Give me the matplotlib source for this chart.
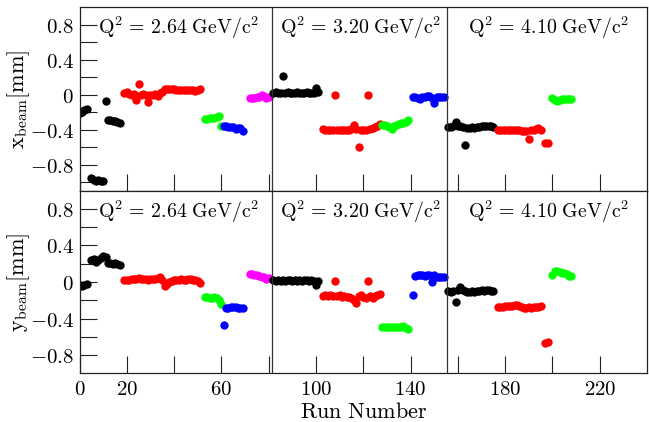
import numpy as np
import matplotlib.pyplot as plt

plt.rcParams['mathtext.fontset'] = 'cm'

# beam position per run, grouped by colour block
# Q^2 = 2.64 GeV/c^2
runs_k1 = [0, 1, 2, 3, 5, 6, 7, 8, 9, 10, 11, 12, 13, 14, 15, 16, 17]
xb_k1 = [-0.21, -0.20, -0.18, -0.16, -0.96, -0.98, -0.99, -0.98, -0.99, -0.99,
         -0.07, -0.29, -0.29, -0.30, -0.30, -0.31, -0.33]
yb_k1 = [-0.03, -0.04, -0.03, -0.02, 0.24, 0.25, 0.22, 0.24, 0.26, 0.28,
         0.27, 0.21, 0.21, 0.20, 0.21, 0.20, 0.19]

runs_r1 = list(range(19, 52))
xb_r1 = [0.02, 0.03, 0.01, 0.00, 0.01, -0.06, 0.12, 0.00, 0.01, 0.00, -0.09,
         0.00, 0.00, 0.01, -0.02, 0.02, 0.03, 0.06, 0.07, 0.06, 0.06, 0.06,
         0.05, 0.05, 0.05, 0.05, 0.05, 0.05, 0.05, 0.05, 0.04, 0.05, 0.07]
yb_r1 = [0.02, 0.02, 0.02, 0.03, 0.03, 0.03, 0.04, 0.03, 0.03, 0.03, 0.02,
         0.03, 0.03, 0.03, 0.04, 0.05, 0.02, -0.04, -0.02, 0.00, 0.01, 0.02,
         0.02, 0.02, 0.03, 0.02, 0.02, 0.03, 0.03, 0.02, 0.02, 0.01, -0.01]

runs_g1 = list(range(53, 61))
xb_g1 = [-0.28, -0.28, -0.27, -0.27, -0.27, -0.26, -0.24, -0.36]
yb_g1 = [-0.16, -0.16, -0.17, -0.17, -0.16, -0.18, -0.20, -0.24]

runs_b1 = list(range(61, 70))
xb_b1 = [-0.36, -0.36, -0.37, -0.37, -0.37, -0.39, -0.38, -0.38, -0.42]
yb_b1 = [-0.47, -0.28, -0.28, -0.27, -0.27, -0.27, -0.28, -0.28, -0.29]

runs_m1 = list(range(72, 81))
xb_m1 = [-0.04, -0.04, -0.04, -0.03, -0.03, 0.00, -0.02, -0.04, -0.03]
yb_m1 = [0.09, 0.09, 0.08, 0.08, 0.07, 0.06, 0.05, 0.03, 0.04]

# Q^2 = 3.20 GeV/c^2
runs_k2 = list(range(82, 102))
xb_k2 = [0.02, 0.03, 0.02, 0.02, 0.21, 0.02, 0.03, 0.02, 0.02, 0.02,
         0.03, 0.02, 0.02, 0.02, 0.03, 0.02, 0.02, 0.02, 0.08, 0.03]
yb_k2 = [0.02, 0.01, 0.02, 0.01, 0.02, 0.01, 0.02, 0.02, 0.01, 0.02,
         0.01, 0.02, 0.01, 0.02, 0.02, 0.01, 0.02, 0.01, -0.03, 0.01]

runs_r2 = list(range(103, 128))
xb_r2 = [-0.39, -0.40, -0.40, -0.40, -0.40, 0.00, -0.40, -0.41, -0.41, -0.41,
         -0.40, -0.41, -0.39, -0.35, -0.39, -0.60, -0.41, -0.40, -0.40, 0.00,
         -0.39, -0.38, -0.37, -0.36, -0.34]
yb_r2 = [-0.15, -0.14, -0.15, -0.14, -0.15, 0.01, -0.15, -0.14, -0.16, -0.15,
         -0.16, -0.16, -0.17, -0.20, -0.23, -0.15, -0.14, -0.16, -0.17, 0.01,
         -0.15, -0.17, -0.15, -0.14, -0.13]

runs_g2 = list(range(128, 140))
xb_g2 = [-0.35, -0.35, -0.36, -0.37, -0.39, -0.36, -0.35, -0.34, -0.32,
         -0.33, -0.31, -0.29]
yb_g2 = [-0.49, -0.49, -0.49, -0.49, -0.49, -0.49, -0.49, -0.49, -0.49,
         -0.48, -0.50, -0.51]

runs_b2 = list(range(141, 155))
xb_b2 = [-0.03, -0.03, -0.04, -0.05, -0.03, -0.03, -0.01, -0.02, -0.04,
         -0.10, -0.03, -0.03, -0.03, -0.03]
yb_b2 = [-0.14, 0.07, 0.08, 0.08, 0.08, 0.07, 0.08, 0.08, 0.00, 0.08,
         0.05, 0.05, 0.06, 0.06]

# Q^2 = 4.10 GeV/c^2
runs_k3 = list(range(156, 176))
xb_k3 = [-0.37, -0.37, -0.36, -0.31, -0.36, -0.36, -0.37, -0.58, -0.38, -0.38,
         -0.37, -0.38, -0.37, -0.37, -0.36, -0.36, -0.36, -0.36, -0.36, -0.37]
yb_k3 = [-0.10, -0.11, -0.10, -0.22, -0.09, -0.06, -0.09, -0.10, -0.11, -0.11,
         -0.10, -0.11, -0.10, -0.10, -0.09, -0.10, -0.09, -0.09, -0.10, -0.10]

runs_r3 = list(range(177, 196)) + [197, 198]
xb_r3 = [-0.40, -0.40, -0.40, -0.40, -0.40, -0.41, -0.41, -0.41, -0.40, -0.41,
         -0.42, -0.42, -0.42, -0.51, -0.41, -0.40, -0.39, -0.38, -0.41,
         -0.55, -0.55]
yb_r3 = [-0.27, -0.27, -0.27, -0.26, -0.26, -0.26, -0.26, -0.25, -0.25, -0.26,
         -0.27, -0.28, -0.28, -0.27, -0.28, -0.27, -0.27, -0.27, -0.26,
         -0.67, -0.66]

runs_g3 = list(range(200, 209))
xb_g3 = [-0.04, -0.06, -0.07, -0.06, -0.05, -0.05, -0.05, -0.05, -0.05]
yb_g3 = [0.08, 0.12, 0.12, 0.11, 0.10, 0.10, 0.09, 0.07, 0.07]

groups = [
    (runs_k1, xb_k1, yb_k1, '#000000'),
    (runs_r1, xb_r1, yb_r1, '#ff0000'),
    (runs_g1, xb_g1, yb_g1, '#00ff00'),
    (runs_b1, xb_b1, yb_b1, '#0000ff'),
    (runs_m1, xb_m1, yb_m1, '#ff00ff'),
    (runs_k2, xb_k2, yb_k2, '#000000'),
    (runs_r2, xb_r2, yb_r2, '#ff0000'),
    (runs_g2, xb_g2, yb_g2, '#00ff00'),
    (runs_b2, xb_b2, yb_b2, '#0000ff'),
    (runs_k3, xb_k3, yb_k3, '#000000'),
    (runs_r3, xb_r3, yb_r3, '#ff0000'),
    (runs_g3, xb_g3, yb_g3, '#00ff00'),
]

q2_labels = ['2.64', '3.20', '4.10']
q2_centres = [42.0, 119.0, 198.5]
q2_bounds = [81.5, 155.5]

x_ticks = list(range(0, 240, 20))
x_ticklabels = [r'$%d$' % t if t in (0, 20, 60, 100, 140, 180, 220) else ''
                for t in x_ticks]

fig = plt.figure(figsize=(6.49, 4.22), dpi=100)
ax_x = fig.add_axes([0.1225, 0.5481, 0.8745, 0.4346])
ax_y = fig.add_axes([0.1225, 0.1154, 0.8745, 0.4327])

for runs, xb, yb, col in groups:
    ax_x.plot(runs, xb, 'o', color=col, ms=6, mew=0)
    ax_y.plot(runs, yb, 'o', color=col, ms=6, mew=0)

def style(ax, ylo, yhi, yticks, ylabel):
    ax.set_xlim(0, 240)
    ax.set_ylim(ylo, yhi)
    ax.set_yticks(yticks)
    lab = []
    for t in yticks:
        r = round(t, 1)
        if abs(r) < 1e-9:
            lab.append(r'$0$')
        elif round(r / 0.4, 6) % 1 == 0 and abs(r) < 0.95:
            lab.append(r'$%g$' % r)
        else:
            lab.append('')
    ax.set_yticklabels(lab, fontsize=15)
    ax.set_xticks(x_ticks)
    ax.tick_params(direction='in', length=12.5, width=0.8, color='#222222',
                   top=False, right=False, pad=4)
    for s in ax.spines.values():
        s.set_linewidth(0.9)
        s.set_color('#222222')
    for b in q2_bounds:
        ax.axvline(b, color='#333333', lw=0.9)
    for c, q in zip(q2_centres, q2_labels):
        ax.text(c, 0.70, r'$\mathrm{Q}^2\,=\,%s\ \mathrm{GeV/c}^2$' % q,
                fontsize=14.3, ha='center', va='baseline')
    ax.set_ylabel(ylabel, fontsize=16)

style(ax_x, -1.1, 1.0, np.round(np.arange(-1.0, 0.81, 0.2), 1),
      r'$\mathrm{x}_{\mathrm{beam}}[\mathrm{mm}]$')
style(ax_y, -1.0, 1.0, np.round(np.arange(-0.8, 0.81, 0.2), 1),
      r'$\mathrm{y}_{\mathrm{beam}}[\mathrm{mm}]$')

ax_x.set_xticklabels([])
ax_y.set_xticklabels(x_ticklabels, fontsize=15)
ax_y.set_xlabel(r'$\mathrm{Run\ Number}$', fontsize=16, labelpad=2)
ax_x.yaxis.set_label_coords(-0.083, 0.5)
ax_y.yaxis.set_label_coords(-0.083, 0.5)

fig.savefig('out.png', dpi=100)
